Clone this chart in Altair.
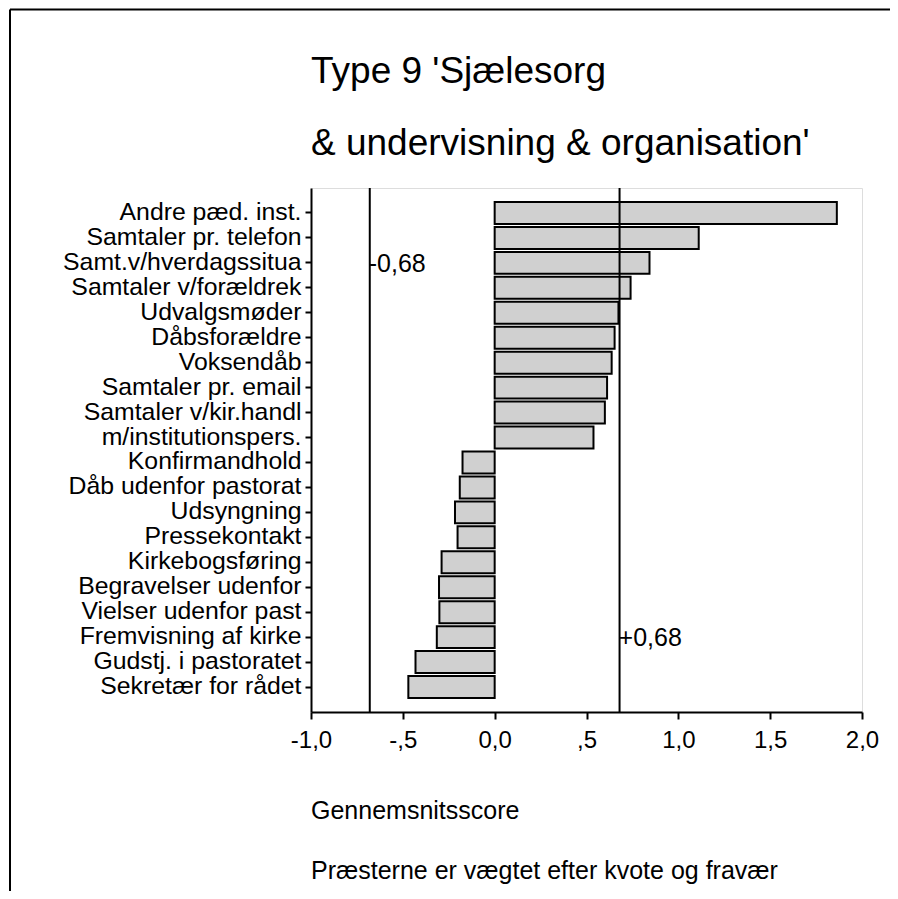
import altair as alt
import pandas as pd

NB = "\u00a0"
categories = [
    "Andre pæd. inst." + NB,
    "Samtaler pr. telefon",
    "Samt.v/hverdagssitua" + NB,
    "Samtaler v/forældrek",
    "Udvalgsmøder",
    "Dåbsforældre" + NB,
    "Voksendåb" + NB,
    "Samtaler pr. email",
    "Samtaler v/kir.handl",
    "m/institutionspers.",
    "Konfirmandhold",
    "Dåb udenfor pastorat" + NB,
    "Udsyngning",
    "Pressekontakt",
    "Kirkebogsføring",
    "Begravelser udenfor" + NB,
    "Vielser udenfor past" + NB,
    "Fremvisning af kirke",
    "Gudstj. i pastoratet",
    "Sekretær for rådet" + NB,
]
scores = [1.863, 1.111, 0.843, 0.740, 0.674, 0.653, 0.637, 0.612, 0.600, 0.538,
          -0.175, -0.190, -0.216, -0.202, -0.289, -0.303, -0.301, -0.315, -0.431, -0.470]

tick_values = [-1.0, -0.5, 0.0, 0.5, 1.0, 1.5, 2.0]
tick_labels = ["-1,0", "-,5", "0,0", ",5", "1,0", "1,5", "2,0"]

ref_values = [-0.68, 0.68]
ref_labels = ["-0,68", "+0,68"]
ref_rows = [categories[2], categories[17]]

title_lines = ["Type 9 'Sjælesorg", "& undervisning & organisation'"]
note_lines = ["Gennemsnitsscore", "Præsterne er vægtet efter kvote og fravær"]

FONT = "Liberation Sans"
W, H = 551, 524

df = pd.DataFrame({"kategori": categories, "score": scores})
ref_df = pd.DataFrame({"x": ref_values, "label": ref_labels, "row": ref_rows})
one = pd.DataFrame({"a": [0]})

label_expr = "[" + ",".join("'%s'" % s for s in tick_labels) + "][round((datum.value + 1) * 2)]"

yscale = alt.Scale(domain=categories, paddingInner=0.12, paddingOuter=0.56)
xscale = alt.Scale(domain=[-1, 2], nice=False, zero=False)

bars = alt.Chart(df).mark_bar(
    fill="#d0d0d0", stroke="black", strokeWidth=2
).encode(
    x=alt.X("score:Q", scale=xscale,
            axis=alt.Axis(values=tick_values, labelExpr=label_expr, title=None,
                          labelFontSize=24, labelFont=FONT, labelColor="black", labelPadding=9,
                          tickSize=7, tickWidth=2, tickColor="black",
                          domainWidth=2, domainColor="black", grid=False, labelFlush=False)),
    x2=alt.datum(0),
    y=alt.Y("kategori:N", scale=yscale, sort=categories,
            axis=alt.Axis(title=None, labelFontSize=24.8, labelFont=FONT, labelColor="black",
                          labelPadding=4, tickSize=6, tickWidth=2, tickColor="black",
                          domainWidth=2, domainColor="black", grid=False, labelLimit=400)),
)

rules = alt.Chart(ref_df).mark_rule(color="black", strokeWidth=2).encode(
    x=alt.X("x:Q", scale=xscale)
)

ref_text = alt.Chart(ref_df).mark_text(
    align="left", baseline="middle", fontSize=25, font=FONT, color="black", dx=-1, dy=1
).encode(
    x=alt.X("x:Q", scale=xscale),
    y=alt.Y("row:N", scale=yscale, sort=categories),
    text="label:N",
)

title_text = alt.Chart(one).mark_text(
    text=title_lines, align="left", baseline="alphabetic", fontSize=37, font=FONT,
    color="black", lineHeight=72
).encode(x=alt.value(0), y=alt.value(-105))

note_text = alt.Chart(one).mark_text(
    text=note_lines, align="left", baseline="alphabetic", fontSize=25, font=FONT,
    color="black", lineHeight=60
).encode(x=alt.value(0), y=alt.value(631))

frame_left = alt.Chart(one).mark_rule(color="black", strokeWidth=2).encode(
    x=alt.value(-301), y=alt.value(-178.5), y2=alt.value(800)
)
frame_top = alt.Chart(one).mark_rule(color="black", strokeWidth=2).encode(
    x=alt.value(-301), x2=alt.value(700), y=alt.value(-178.5)
)

chart = alt.layer(bars, rules, ref_text, title_text, note_text, frame_left, frame_top).properties(
    width=W,
    height=H,
    autosize=alt.AutoSizeParams(type="none"),
    padding={"left": 303, "top": 180, "right": 28, "bottom": 179},
).configure_view(stroke=None).configure(background="white")

chart.save("out.html", embed_options={"renderer": "svg", "actions": False})
